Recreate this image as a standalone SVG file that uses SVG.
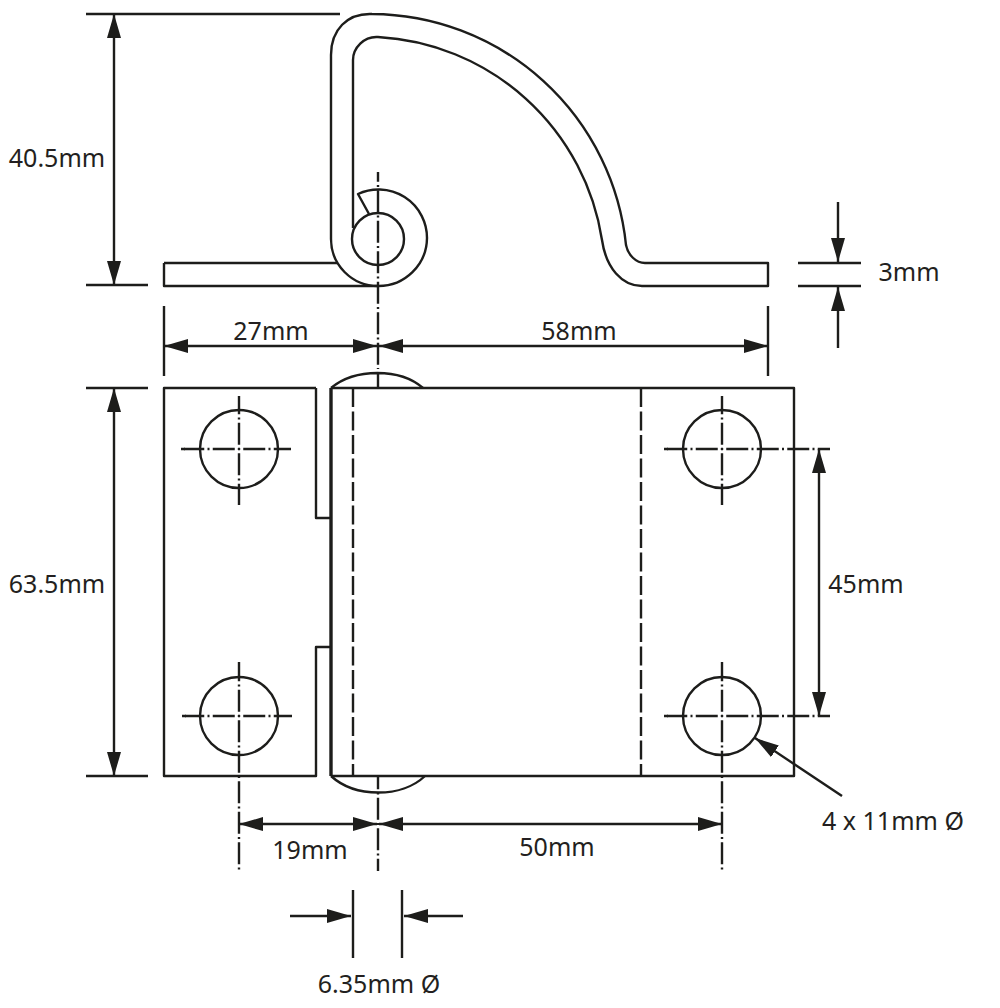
<svg xmlns="http://www.w3.org/2000/svg" width="1000" height="1008" viewBox="0 0 1000 1008">
<style>
.o{fill:none;stroke:#1d1d1b;stroke-width:2.4;stroke-linejoin:round}
.d{fill:none;stroke:#1d1d1b;stroke-width:2.4}
.c{fill:none;stroke:#1d1d1b;stroke-width:2.4;stroke-dasharray:22 3.25 2 3.25;stroke-dashoffset:26.25}
.h{fill:none;stroke:#1d1d1b;stroke-width:2.4;stroke-dasharray:19 4.500}
text{font-family:"Noto Sans","Open Sans","Liberation Sans",sans-serif;font-size:25px;fill:#231f20;text-anchor:middle}
</style>
<defs>
<marker id="a" markerUnits="userSpaceOnUse" markerWidth="26" markerHeight="16" refX="24" refY="7" orient="auto-start-reverse"><path d="M0 0L24 7L0 14Z" fill="#1d1d1b"/></marker>
</defs>
<rect width="1000" height="1008" fill="#fff"/>
<g id="side-view">
<path class="o" d="M331 239V55C331 30 347 13 372 14A257 257 0 0 1 626 245C628 255 636 263 645 263H768V286H642C622 286 606 268 602 240A240 240 0 0 0 378 37C364 36 353 48 353 60V228"/>
<path class="o" d="M164 263H337M164 263V286H378"/>
<path class="o" d="M331 239A47 47 0 0 0 378 286A48.500 48.500 0 0 0 427 238A48.500 48.500 0 0 0 358 194L369 214"/>
<circle class="o" cx="378" cy="239" r="26"/>
</g>
<g id="plan-view">
<path class="o" d="M316 388H164V776H316V647H331M316 388V518H331"/>
<path class="o" d="M331 388H794V776H331"/>
<path d="M331 388V776" fill="none" stroke="#1d1d1b" stroke-width="3.400"/>
<path class="o" d="M331 388C355 368 400 368 423 388M331 776C355 798 402 798 425 776M378 373V388"/>
<path class="h" d="M353 388V776"/>
<path class="h" d="M641 388V776"/>
<circle class="o" cx="239" cy="449" r="39"/>
<circle class="o" cx="722" cy="449" r="39"/>
<circle class="o" cx="239" cy="716" r="39"/>
<circle class="o" cx="722" cy="716" r="39"/>
</g>
<g id="centre-lines">
<path class="c" d="M378 369V172M378 824V776M378 824V871"/>
<path class="c" d="M239 449V396M239 449V505M239 449H184M239 449H291"/>
<path class="c" d="M239 716V662M239 716V871M239 716H185M239 716H292"/>
<path class="c" d="M722 449V396M722 449V505M722 449H667M722 449H830"/>
<path class="c" d="M722 716V662M722 716V871M722 716H667M722 716H830"/>
<path class="d" d="M181 449H185M182 716H186M664 449H668M664 716H668"/>
</g>
<g id="dimensions">
<path class="d" d="M86 14H340M86 285H148M86 388H148M86 776H148M164 306V376M768 306V376M798 263H861M798 286H861M353 890V958M402 890V958"/>
<path class="d" marker-start="url(#a)" marker-end="url(#a)" d="M114 14V285"/>
<path class="d" marker-start="url(#a)" marker-end="url(#a)" d="M114 388V776"/>
<path class="d" marker-start="url(#a)" marker-end="url(#a)" d="M164 346H377"/>
<path class="d" marker-start="url(#a)" marker-end="url(#a)" d="M379 346H768"/>
<path class="d" marker-end="url(#a)" d="M838 202V262"/>
<path class="d" marker-end="url(#a)" d="M838 348V287"/>
<path class="d" marker-start="url(#a)" marker-end="url(#a)" d="M819 449V716"/>
<path class="d" marker-start="url(#a)" marker-end="url(#a)" d="M239 824H377"/>
<path class="d" marker-start="url(#a)" marker-end="url(#a)" d="M379 824H722"/>
<path class="d" marker-end="url(#a)" d="M290 916H351"/>
<path class="d" marker-end="url(#a)" d="M463 916H404"/>
<path class="d" marker-end="url(#a)" d="M842 796L755 738"/>
</g>
<g id="labels">
<text x="57" y="167">40.5mm</text>
<text x="57" y="593">63.5mm</text>
<text x="271" y="340">27mm</text>
<text x="579" y="340">58mm</text>
<text x="909" y="281">3mm</text>
<text x="866" y="593">45mm</text>
<text x="310" y="859">19mm</text>
<text x="557" y="856">50mm</text>
<text x="893" y="830">4 x 11mm Ø</text>
<text x="379" y="993">6.35mm Ø</text>
</g>
</svg>
